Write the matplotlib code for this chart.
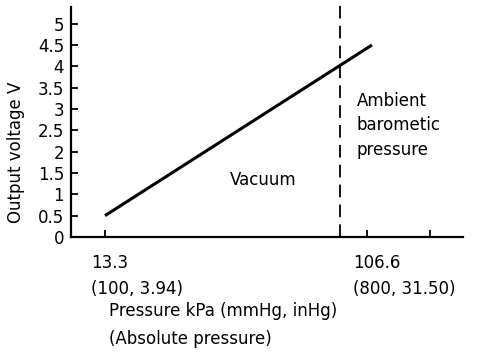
import matplotlib
matplotlib.use("Agg")
import matplotlib.pyplot as plt
import matplotlib.transforms as mtransforms

plt.rcParams['font.family'] = ['DejaVu Sans']

# data
pressure_kpa = [13.3, 108.4]
output_v = [0.5, 4.5]
ambient_x = 97.0
yticks = [0, 0.5, 1, 1.5, 2, 2.5, 3, 3.5, 4, 4.5, 5]
ytick_labels = ["0", "0.5", "1", "1.5", "2", "2.5", "3", "3.5", "4", "4.5", "5"]
xticks = [13.3, 106.6, 129.0]
xtick_labels = ["13.3\n(100, 3.94)", "106.6\n(800, 31.50)", ""]

FS = 12

fig = plt.figure(figsize=(4.8, 3.6), dpi=100)
ax = fig.add_axes([71/480, 1-237/360, (463-71)/480, (237-7)/360])
ax.set_xlim(1.2, 140.8)
ax.set_ylim(0, 5.39)

ax.plot(pressure_kpa, output_v, color='black', lw=2.2, solid_capstyle='butt')
ax.axvline(ambient_x, ymin=0, ymax=1.04, color='black', lw=1.3, dashes=(7, 4), clip_on=False)

for s in ['top', 'right']:
    ax.spines[s].set_visible(False)
for s in ['left', 'bottom']:
    ax.spines[s].set_linewidth(1.6)

ax.set_yticks(yticks)
ax.set_yticklabels(ytick_labels, fontsize=FS)
ax.tick_params(axis='y', direction='in', length=5, width=1.3, pad=5)
ax.set_xticks(xticks)
ax.set_xticklabels([])
ax.tick_params(axis='x', direction='in', length=5, width=1.3)

trans = mtransforms.blended_transform_factory(ax.transData, ax.transAxes)
offset = mtransforms.ScaledTranslation(-14/100, 0, fig.dpi_scale_trans)
for xv, lab in zip(xticks, xtick_labels):
    if lab:
        ax.text(xv, -0.075, lab, transform=trans + offset, ha='left', va='top',
                fontsize=FS, linespacing=1.55)

fig.text(109/480, 1-325/360, "Pressure kPa (mmHg, inHg)\n(Absolute pressure)",
         ha='left', va='center', fontsize=FS, linespacing=1.75)
fig.text(16/480, 1-152/360, "Output voltage V", rotation=90, ha='center',
         va='center', fontsize=FS)

ax.text(230/480, 1-185/360, "Vacuum", transform=fig.transFigure, fontsize=FS)
ax.text(357/480, 1-92/360, "Ambient\nbarometic\npressure", transform=fig.transFigure,
        ha='left', va='top', fontsize=FS, linespacing=1.45)

fig.savefig("out.png", dpi=100)
